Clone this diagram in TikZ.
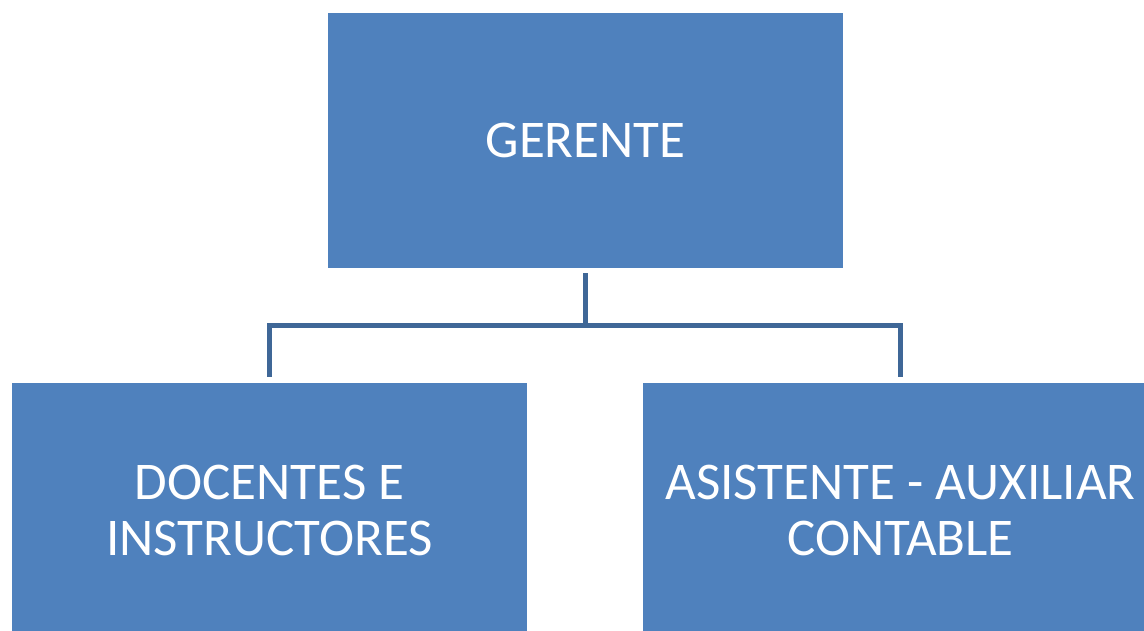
\documentclass[tikz,border=0pt]{standalone}
\usepackage{fontspec}
\setmainfont{Carlito}
\usepackage{tikz}
\usetikzlibrary{positioning}
\definecolor{boxblue}{HTML}{4F81BD}
\definecolor{lineblue}{HTML}{3F6797}

\begin{document}
\begin{tikzpicture}[x=1pt,y=-1pt,
        box/.style={rectangle, fill=boxblue, text=white, align=center,
            minimum width=515pt, minimum height=255pt, inner sep=0pt,
            font=\fontsize{53}{56}\selectfont},
        link/.style={draw=lineblue, line width=5pt}
        ]
        \useasboundingbox (0,0) rectangle (1144,630);
        \node[box] (gerente) at (585.5,140.5) {GERENTE};
        \node[box] (docentes) at (269.5,510.5) {DOCENTES E\\INSTRUCTORES};
        \node[box] (asistente) at (900.5,510.5) {ASISTENTE - AUXILIAR\\CONTABLE};
        \coordinate (junction) at (585.5,325);
        \draw[link, shorten <=5pt] (gerente) -- (junction);
        \draw[link, shorten >=6pt] (junction) -| (docentes);
        \draw[link, shorten >=6pt] (junction) -| (asistente);
    \end{tikzpicture}
\end{document}
